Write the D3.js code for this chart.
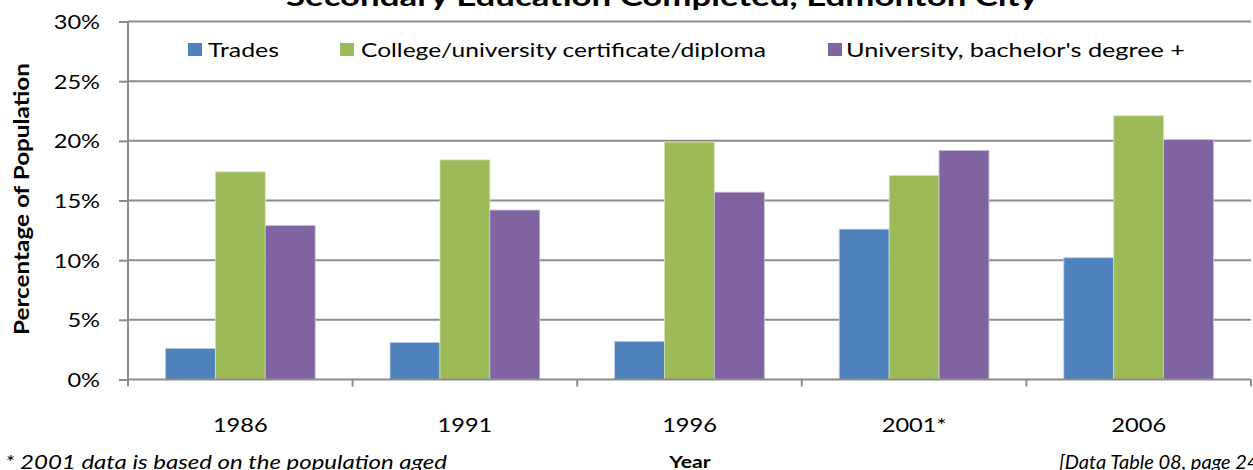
<!DOCTYPE html>
<html>
<head>
<meta charset="utf-8">
<script src="https://cdn.jsdelivr.net/npm/d3@7"></script>
<style>
  html, body { margin: 0; padding: 0; background: #fff; }
  svg { display: block; font-family: Lato, "Open Sans", sans-serif; }
</style>
</head>
<body>
<svg id="chart" width="1253" height="470"></svg>
<script>
// ---- data ----
const categories = ["1986", "1991", "1996", "2001*", "2006"];
const seriesNames = ["Trades", "College/university certificate/diploma", "University, bachelor's degree +"];
const trades = [2.6, 3.1, 3.2, 12.6, 10.2];
const college = [17.4, 18.4, 19.9, 17.1, 22.1];
const university = [12.9, 14.2, 15.7, 19.2, 20.1];
const yTicks = [0, 5, 10, 15, 20, 25, 30];
const titleText = "Secondary Education Completed, Edmonton City";
const yAxisTitle = "Percentage of Population";
const xAxisTitle = "Year";
const footnoteLeft = "* 2001 data is based on the population aged";
const footnoteRight = "[Data Table 08, page 24]";

const colors = ["#4F81BD", "#9BBB59", "#8064A2"];
const edgeColors = ["#b9cde5", "#d7e4bd", "#ccc1da"];
const seriesValues = [trades, college, university];

const svg = d3.select("#chart");
const S = 1.18; // horizontal stretch of chart text

const plot = { left: 128, right: 1251, top: 21.5, bottom: 379.5 };

const x0 = d3.scaleBand().domain(categories).range([plot.left, plot.right]).paddingInner(0).paddingOuter(0);
const x1 = d3.scaleBand().domain(d3.range(seriesNames.length)).range([0, x0.bandwidth()]).paddingInner(0).paddingOuter(0.75);
const y = d3.scaleLinear().domain([0, 30]).range([plot.bottom, plot.top]);

const gridColor = "#8c8c8c";

// gridlines
svg.append("g").selectAll("line").data(yTicks.filter(d => d > 0)).join("line")
  .attr("x1", plot.left).attr("x2", plot.right)
  .attr("y1", d => y(d)).attr("y2", d => y(d))
  .attr("stroke", gridColor).attr("stroke-width", 2);

// bars
const groups = svg.append("g").selectAll("g").data(categories).join("g")
  .attr("transform", d => `translate(${x0(d)},0)`);
groups.selectAll("rect").data((d, i) => seriesValues.map((s, k) => ({ k, v: s[i] }))).join("rect")
  .attr("x", d => x1(d.k))
  .attr("width", x1.bandwidth())
  .attr("y", d => y(d.v))
  .attr("height", d => y(0) - y(d.v))
  .attr("fill", d => colors[d.k])
  .attr("stroke", d => edgeColors[d.k])
  .attr("stroke-width", 0.8);

// y axis
const yAxis = d3.axisLeft(y).tickValues(yTicks).tickFormat(d => d + "%").tickSize(9).tickPadding(0);
const gy = svg.append("g").attr("transform", `translate(${plot.left},0)`).call(yAxis);
gy.select(".domain").attr("stroke", gridColor).attr("stroke-width", 2).attr("d", `M0,${plot.top}V${plot.bottom}`);
gy.selectAll(".tick line").attr("stroke", gridColor).attr("stroke-width", 2);
gy.selectAll(".tick text")
  .attr("x", 0).attr("dy", null).attr("y", 7)
  .attr("transform", `translate(-28,0) scale(${S},1)`)
  .attr("font-size", 20).attr("fill", "#000")
  .attr("font-family", "Lato, sans-serif");

// x axis
const xAxis = d3.axisBottom(x0).tickSize(0).tickPadding(0);
const gx = svg.append("g").attr("transform", `translate(0,${plot.bottom})`).call(xAxis);
gx.select(".domain").attr("stroke", gridColor).attr("stroke-width", 2).attr("d", `M${plot.left},0H${plot.right}`);
gx.selectAll(".tick text")
  .attr("y", 0).attr("dy", null)
  .attr("transform", `translate(0,52) scale(${S},1)`)
  .attr("font-size", 20).attr("fill", "#000")
  .attr("font-family", "Lato, sans-serif");
// category boundary ticks
const boundaries = categories.map(c => x0(c)).concat([plot.right]);
gx.append("g").selectAll("line").data(boundaries).join("line")
  .attr("x1", d => d).attr("x2", d => d).attr("y1", 0).attr("y2", 7)
  .attr("stroke", gridColor).attr("stroke-width", 2);

// title
svg.append("text")
  .attr("x", 662).attr("y", 6)
  .attr("text-anchor", "middle")
  .attr("font-size", 26).attr("font-weight", "bold")
  .attr("textLength", 752).attr("lengthAdjust", "spacingAndGlyphs")
  .text(titleText);

// y axis title
svg.append("text")
  .attr("transform", `translate(29,199) scale(1.25,1) rotate(-90)`)
  .attr("text-anchor", "middle")
  .attr("font-size", 17).attr("font-weight", "bold")
  .attr("textLength", 272).attr("lengthAdjust", "spacingAndGlyphs")
  .text(yAxisTitle);

// x axis title
svg.append("text")
  .attr("transform", `translate(690,468) scale(1.25,1)`)
  .attr("text-anchor", "middle")
  .attr("font-size", 17).attr("font-weight", "bold")
  .text(xAxisTitle);

// legend
const legendItems = [
  { sq: 188, tx: 208, w: 71 },
  { sq: 340, tx: 361, w: 405 },
  { sq: 828, tx: 846, w: 339 }
];
const lg = svg.append("g");
seriesNames.forEach((name, i) => {
  lg.append("rect").attr("x", legendItems[i].sq).attr("y", 43).attr("width", 14).attr("height", 13)
    .attr("fill", colors[i]);
  lg.append("text").attr("x", legendItems[i].tx).attr("y", 56.5)
    .attr("font-size", 20)
    .attr("textLength", legendItems[i].w).attr("lengthAdjust", "spacingAndGlyphs")
    .text(name);
});

// footnotes
svg.append("text").attr("x", 5).attr("y", 469)
  .attr("font-size", 20).attr("font-style", "italic")
  .attr("textLength", 442).attr("lengthAdjust", "spacingAndGlyphs")
  .text(footnoteLeft);
svg.append("text").attr("x", 1059).attr("y", 469)
  .attr("font-size", 20).attr("font-style", "italic")
  .text(footnoteRight);
</script>
</body>
</html>
